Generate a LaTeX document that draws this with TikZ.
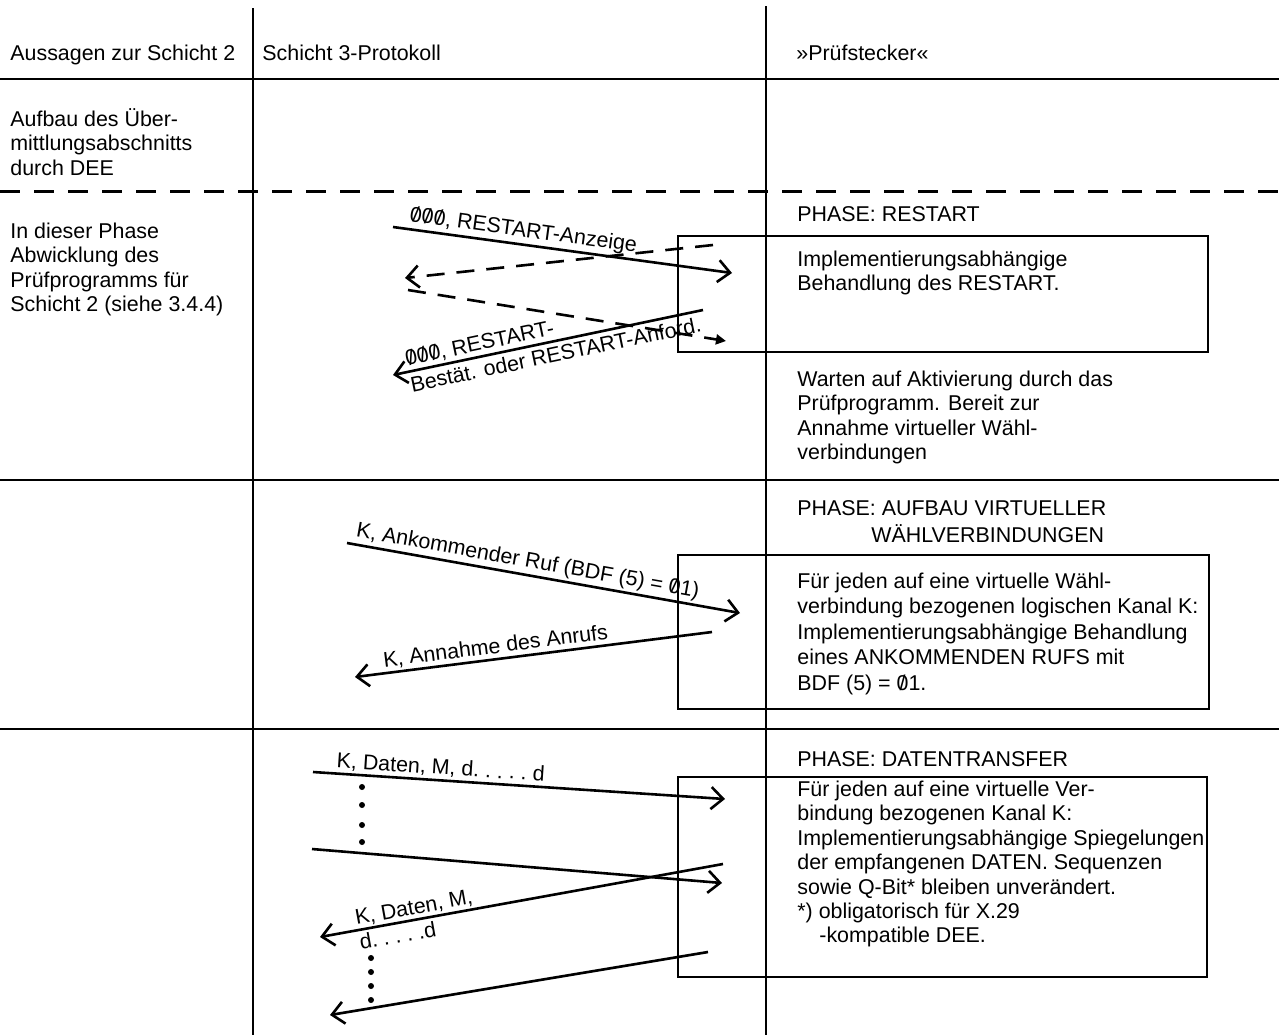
\documentclass[tikz,border=0pt]{standalone}
\usepackage{fontspec}
\setmainfont{Liberation Sans}
\usetikzlibrary{arrows.meta}
\newcommand\nz{\ooalign{0\cr\hidewidth/\hidewidth\cr}}
\newcommand\fl{\rule{0pt}{9pt}}
\begin{document}
\begin{tikzpicture}[x=0.5pt,y=-0.5pt,
  txt/.style={anchor=north west,inner sep=0pt,align=left,font=\fontsize{10.7}{12.2}\selectfont},
  lbl/.style={sloped,inner sep=1pt,font=\fontsize{10.7}{12.75}\selectfont},
  rule/.style={line width=1.2pt},
  box/.style={line width=1pt},
  msg/.style={line width=1.3pt,-{Straight Barb[length=6pt,width=11pt]}},
  back/.style={msg,dash pattern=on 9pt off 6pt}]
\useasboundingbox (0,0) rectangle (1279,1035);
\draw[rule] (0,79) -- (1279,79);
\draw[rule,line width=1.5pt,dash pattern=on 10pt off 7pt] (0,191) -- (1279,191);
\draw[rule] (0,480) -- (1279,480);
\draw[rule] (0,729) -- (1279,729);
\draw[box] (253,8) -- (253,1035);
\draw[box] (766,6) -- (766,1035);
\draw[box] (678,236) rectangle (1208,352);
\draw[box] (678,555) rectangle (1209,709);
\draw[box] (678,777) rectangle (1207,977);

\node[txt] (h1) at (10,42) {\fl Aussagen zur Schicht 2};
\node[txt] (h2) at (262,42) {\fl Schicht 3-Protokoll};
\node[txt] (h3) at (796,42) {\fl »Prüfstecker«};
\node[txt] (s1) at (10,108) {\fl Aufbau des Über-\\mittlungsabschnitts\\durch DEE};
\node[txt] (s2) at (10,220) {\fl In dieser Phase\\Abwicklung des\\Prüfprogramms für\\Schicht 2 (siehe 3.4.4)};
\node[txt] (p1) at (797,203) {\fl PHASE: RESTART};
\node[txt] (t1) at (797,248) {\fl Implementierungsabhängige\\Behandlung des RESTART.};
\node[txt] (w1) at (797,368) {\fl Warten auf Aktivierung durch das\\Prüfprogramm. Bereit zur\\Annahme virtueller Wähl-\\verbindungen};
\node[txt,font=\fontsize{10.7}{13.5}\selectfont] (p2) at (797,497) {\fl PHASE: AUFBAU VIRTUELLER\\\hspace*{37pt}WÄHLVERBINDUNGEN};
\node[txt,font=\fontsize{10.7}{12.75}\selectfont] (t2) at (797,570) {\fl Für jeden auf eine virtuelle Wähl-\\verbindung bezogenen logischen Kanal K:\\Implementierungsabhängige Behandlung\\eines ANKOMMENDEN RUFS mit\\BDF (5) = \nz1.};
\node[txt] (p3) at (797,748) {\fl PHASE: DATENTRANSFER};
\node[txt] (t3) at (797,778) {\fl Für jeden auf eine virtuelle Ver-\\bindung bezogenen Kanal K:\\Implementierungsabhängige Spiegelungen\\der empfangenen DATEN. Sequenzen\\sowie Q-Bit* bleiben unverändert.\\*) obligatorisch für X.29\\\hspace*{11pt}-kompatible DEE.};

\coordinate (a1) at (393,227); \coordinate (b1) at (732,273);
\coordinate (a2) at (713,245); \coordinate (b2) at (405,278);
\coordinate (a3) at (408,290); \coordinate (b3) at (726,341);
\coordinate (a4) at (703,310); \coordinate (b4) at (393,375);
\coordinate (a5) at (347,543); \coordinate (b5) at (740,613);
\coordinate (a6) at (712,632); \coordinate (b6) at (355,677);
\coordinate (a7) at (313,772); \coordinate (b7) at (725,799);
\coordinate (a8) at (312,849); \coordinate (b8) at (722,883);
\coordinate (a9) at (723,864); \coordinate (b9) at (320,937);
\coordinate (a10) at (708,952); \coordinate (b10) at (330,1015);

\draw[msg] (a1) -- node[lbl,pos=0.035,anchor=south west] (l1) {\nz\nz\nz, RESTART-Anzeige} (b1);
\draw[back] (a2) -- (b2);
\draw[line width=1.3pt,dash pattern=on 9pt off 6pt,-{Triangle[length=5pt,width=5pt]}] (a3) -- (b3);
\draw[msg] (a4) -- node[lbl,pos=0.962,anchor=west,align=left,font=\fontsize{10.7}{13.5}\selectfont] (l4) {\nz\nz\nz, RESTART-\\Bestät. oder RESTART-Anford.} (b4);
\draw[msg] (a5) -- node[lbl,pos=0.01,anchor=south west] (l5) {K, Ankommender Ruf (BDF (5) = \nz1)} (b5);
\draw[msg] (a6) -- node[lbl,pos=0.925,anchor=south west] (l6) {K, Annahme des Anrufs} (b6);
\draw[msg] (a7) -- node[lbl,pos=0.048,anchor=south west] (l7) {K, Daten, M, d.\ .\ .\ .\ .\ d} (b7);
\draw[msg] (a8) -- (b8);
\draw[msg] (a9) -- node[lbl,pos=0.915,anchor=west,align=left] (l9) {K, Daten, M,\\d.\ .\ .\ .\ .d} (b9);
\draw[msg] (a10) -- (b10);

\foreach \y in {787,805,825,842} \fill (362,\y) circle (3);
\foreach \y in {958,972,986,1000} \fill (371,\y) circle (3);
\end{tikzpicture}
\end{document}
